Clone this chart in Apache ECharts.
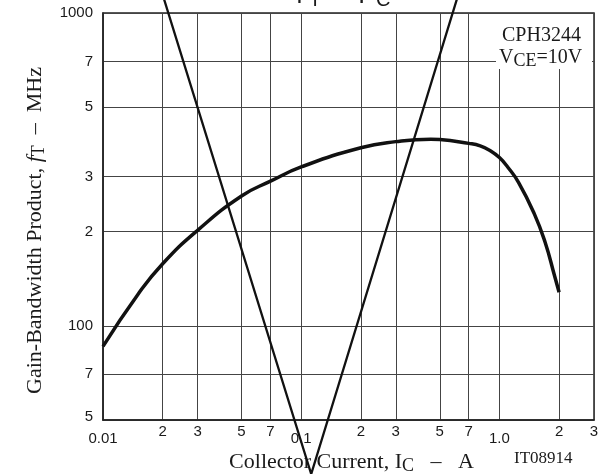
<!DOCTYPE html>
<html>
<head>
<meta charset="utf-8">
<script src="https://cdn.jsdelivr.net/npm/echarts@6/dist/echarts.min.js"></script>
<style>
html, body { margin: 0; padding: 0; background: #fff; }
#main { width: 612px; height: 474px; }
</style>
</head>
<body>
<div id="main"></div>
<script>
// fT - IC, CPH3244 (VCE = 10V)
var currentA = [0.01, 0.015, 0.02, 0.03, 0.05, 0.07, 0.1, 0.2, 0.3, 0.45, 0.5, 0.7, 0.8, 0.9, 1.0, 1.1, 1.25, 1.5, 1.7, 1.9, 2.0];
var ftMHz = [86, 126, 158, 202, 260, 290, 322, 371, 388, 395, 394, 383, 376, 363, 345, 322, 287, 228, 185, 144, 128];

// the big "V" stroke crossing the chart (runs off the top and bottom)
var vStrokeA = [0.0193, 0.1123, 0.642];
var vStrokeMHz = [1230, 33.6, 1230];

var xTicks = [0.01, 0.02, 0.03, 0.05, 0.07, 0.1, 0.2, 0.3, 0.5, 0.7, 1, 2, 3];
var xTickLabels = ['0.01', '2', '3', '5', '7', '0.1', '2', '3', '5', '7', '1.0', '2', '3'];
var yTicks = [50, 70, 100, 200, 300, 500, 700, 1000];
var yTickLabels = ['5', '7', '100', '2', '3', '5', '7', '1000'];

function nearest(ticks, v) {
    var best = 0;
    for (var i = 1; i < ticks.length; i++) {
        if (Math.abs(Math.log(ticks[i] / v)) < Math.abs(Math.log(ticks[best] / v))) best = i;
    }
    return best;
}

var serif = 'Liberation Serif';
var sans = 'Liberation Sans';
var ink = '#1a1a1a';

var myChart = echarts.init(document.getElementById('main'));
myChart.setOption({
    animation: false,
    backgroundColor: '#fff',
    grid: {
        left: 103, right: 18, top: 13, bottom: 54,
        outerBoundsMode: 'none', containLabel: false,
        show: true, borderColor: '#222', borderWidth: 1.5
    },
    xAxis: {
        type: 'log', logBase: 10, min: 0.01, max: 3,
        axisLine: { show: true, onZero: false, lineStyle: { color: '#222', width: 1.5 } },
        axisTick: { show: false, customValues: xTicks },
        axisLabel: {
            customValues: xTicks, margin: 4,
            fontFamily: sans, fontSize: 15, color: ink,
            formatter: function (v) {
                var t = xTickLabels[nearest(xTicks, v)];
                return t.indexOf('.') >= 0 ? '{d|' + t + '}' : t;
            },
            rich: { d: { fontFamily: sans, fontSize: 15, color: ink, padding: [7, 0, 0, 0] } }
        },
        splitLine: { show: true, lineStyle: { color: '#444', width: 1 } },
        name: '{a|Collector Current, I}{s|C}{a|   \u2013   A}',
        nameLocation: 'middle', nameGap: 17,
        nameTextStyle: {
            padding: [0, 0, 0, 6],
            rich: {
                a: { fontFamily: serif, fontSize: 22, color: ink },
                s: { fontFamily: serif, fontSize: 18, color: ink, padding: [9, 0, 0, 0] }
            }
        }
    },
    yAxis: {
        type: 'log', logBase: 10, min: 50, max: 1000,
        axisLine: { show: true, lineStyle: { color: '#222', width: 1.5 } },
        axisTick: { show: false, customValues: yTicks },
        axisLabel: {
            customValues: yTicks, margin: 10,
            fontFamily: sans, fontSize: 15, color: ink,
            formatter: function (v) {
                var i = nearest(yTicks, v);
                return i === 0 ? '{b|' + yTickLabels[i] + '}' : yTickLabels[i];
            },
            rich: { b: { fontFamily: sans, fontSize: 15, color: ink, padding: [0, 0, 6, 0] } }
        },
        splitLine: { show: true, lineStyle: { color: '#444', width: 1 } },
        name: '{a|Gain-Bandwidth Product, }{i|f}{s|T}{a|  \u2013  MHz}',
        nameLocation: 'middle', nameRotate: 90, nameGap: 41,
        nameTextStyle: {
            padding: [0, 28, 0, 0],
            rich: {
                a: { fontFamily: serif, fontSize: 22, color: ink },
                i: { fontFamily: serif, fontSize: 22, fontStyle: 'italic', color: ink },
                s: { fontFamily: serif, fontSize: 18, color: ink, padding: [9, 0, 0, 0] }
            }
        }
    },
    graphic: [
        // chart title, mostly cut off by the top of the picture
        { type: 'text', x: 296, y: -4, z: 50, style: { text: 'f', font: '26px "Liberation Sans"', fill: ink, verticalAlign: 'middle' } },
        { type: 'text', x: 309, y: 0, z: 50, style: { text: 'T', font: '20px "Liberation Sans"', fill: ink, verticalAlign: 'middle' } },
        { type: 'text', x: 333, y: -4, z: 50, style: { text: '\u2013', font: '26px "Liberation Sans"', fill: ink, verticalAlign: 'middle' } },
        { type: 'text', x: 358, y: -4, z: 50, style: { text: 'I', font: '26px "Liberation Sans"', fill: ink, verticalAlign: 'middle' } },
        { type: 'text', x: 376, y: 0, z: 50, style: { text: 'C', font: '20px "Liberation Sans"', fill: ink, verticalAlign: 'middle' } },
        // condition box
        { type: 'rect', z: 60, shape: { x: 496, y: 14, width: 96, height: 55 }, style: { fill: '#fff' } },
        { type: 'text', x: 502, y: 36, z: 61, style: { text: 'CPH3244', font: '20px "Liberation Serif"', fill: ink, verticalAlign: 'middle' } },
        {
            type: 'text', x: 499, y: 58, z: 61,
            style: {
                text: '{a|V}{s|CE}{a|=10V}', fill: ink, verticalAlign: 'middle',
                rich: {
                    a: { fontFamily: serif, fontSize: 20, fill: ink },
                    s: { fontFamily: serif, fontSize: 18, fill: ink, padding: [7, 0, 0, 0] }
                }
            }
        },
        { type: 'text', x: 514, y: 459, z: 50, style: { text: 'IT08914', font: '17px "Liberation Serif"', fill: ink, verticalAlign: 'middle' } }
    ],
    series: [
        {
            name: 'fT',
            type: 'line',
            data: currentA.map(function (x, i) { return [x, ftMHz[i]]; }),
            showSymbol: false,
            smooth: 0.5,
            lineStyle: { color: '#111', width: 3.5 },
            z: 5
        },
        {
            name: 'stroke',
            type: 'line',
            data: vStrokeA.map(function (x, i) { return [x, vStrokeMHz[i]]; }),
            showSymbol: false,
            clip: false,
            lineStyle: { color: '#111', width: 2.3 },
            z: 6
        }
    ]
});
</script>
</body>
</html>
